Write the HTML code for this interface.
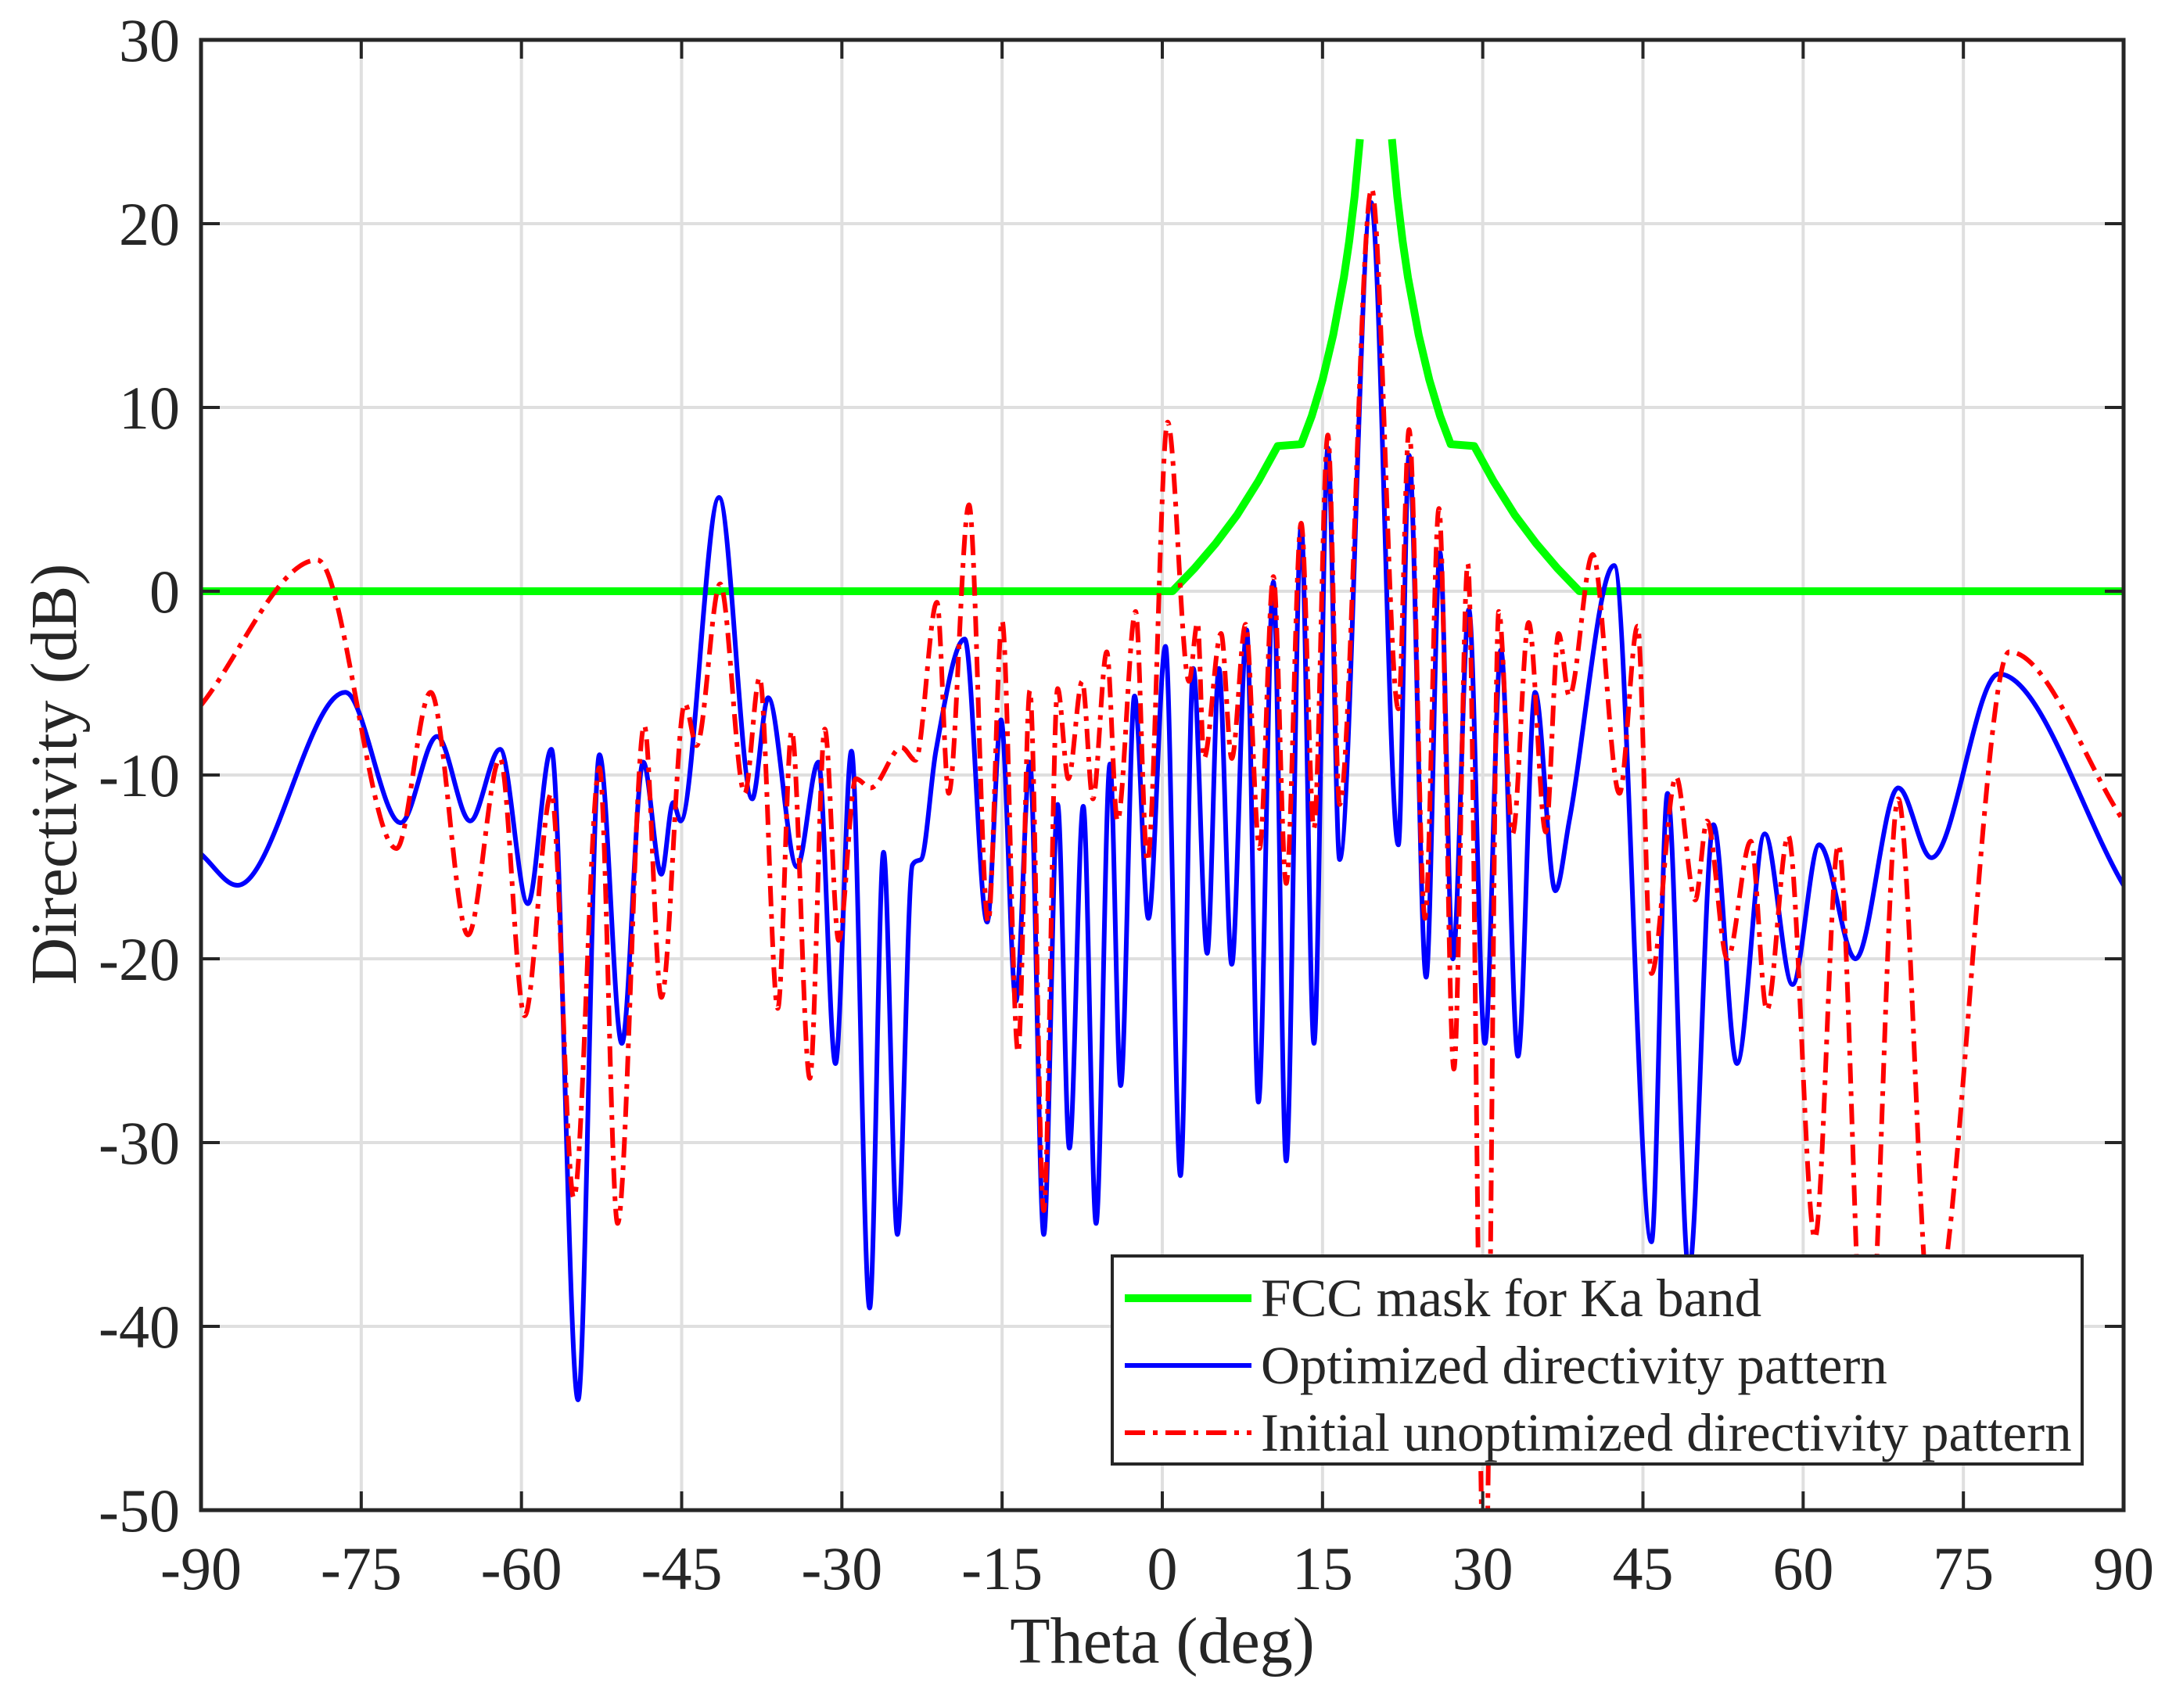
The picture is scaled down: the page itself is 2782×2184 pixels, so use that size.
<!DOCTYPE html>
<html><head><meta charset="utf-8"><style>
html,body{margin:0;padding:0;background:#fff;}
svg text{font-family:"Liberation Serif",serif;fill:#262626;}
</style></head><body>
<svg id="chart" width="2782" height="2179" viewBox="0 0 2782 2179" xmlns="http://www.w3.org/2000/svg">
<rect x="0" y="0" width="2782" height="2179" fill="#fff"/>
<defs><clipPath id="plotclip"><rect x="257" y="51" width="2458" height="1880"/></clipPath></defs>
<g id="grid"></g>
<g id="series" clip-path="url(#plotclip)"></g>
<g id="axes"></g>
<text x="1486" y="2126" font-size="84" text-anchor="middle">Theta (deg)</text>
<text x="0" y="0" font-size="84" text-anchor="middle" transform="translate(97,990) rotate(-90)">Directivity (dB)</text>
<g id="legend">
  <rect x="1422" y="1606" width="1240" height="266" fill="#fff" stroke="#262626" stroke-width="4"/>
  <line x1="1438" y1="1660" x2="1600" y2="1660" stroke="#00ff00" stroke-width="10"/>
  <text x="1612" y="1683" font-size="69">FCC mask for Ka band</text>
  <line x1="1438" y1="1746" x2="1600" y2="1746" stroke="#0000ff" stroke-width="6"/>
  <text x="1612" y="1769" font-size="69">Optimized directivity pattern</text>
  <line x1="1438" y1="1832" x2="1600" y2="1832" stroke="#ff0000" stroke-width="6" stroke-dasharray="26 10 6 10"/>
  <text x="1612" y="1855" font-size="69">Initial unoptimized directivity pattern</text>
</g>
</svg>
<script>
const xTicks=[-90,-75,-60,-45,-30,-15,0,15,30,45,60,75,90];
const yTicks=[30,20,10,0,-10,-20,-30,-40,-50];
const maskTheta=[-90,0.95,3,5,7,9,10.8,13,14,15,16,17,17.5,18,18.5,null,21.5,22,22.5,23,24,25,26,27,29.2,31,33,35,37,39.05,90];
const maskDb=[0,0,1.24,2.6,4.15,6.0,7.9,8,9.55,11.5,13.95,17.07,19.05,21.47,24.6,null,24.6,21.47,19.05,17.07,13.95,11.5,9.55,8,7.9,6.0,4.15,2.6,1.24,0,0];
const optTheta=[-90,-86.6,-76.5,-71.3,-67.9,-64.8,-62.0,-59.4,-57.2,-54.7,-52.7,-50.6,-48.6,-46.9,-45.8,-45.1,-41.5,-38.4,-36.9,-34.2,-32.2,-30.6,-29.1,-27.4,-26.1,-24.8,-23.4,-22.6,-21.2,-18.5,-16.4,-15.1,-13.7,-12.4,-11.1,-9.8,-8.7,-7.4,-6.2,-4.9,-3.9,-2.6,-1.3,0.3,1.7,2.9,4.2,5.3,6.5,7.9,9.0,10.4,11.6,13.0,14.2,15.5,16.6,19.55,22.1,23.1,24.7,26.0,27.2,28.7,30.2,31.7,33.3,34.9,36.8,38.1,42.3,45.8,47.3,49.3,51.6,53.8,56.4,59.0,61.5,64.9,68.9,72.0,78.3,90];
const optDb=[-14.3,-16.0,-5.5,-12.6,-7.9,-12.5,-8.6,-17.0,-8.6,-44,-8.9,-24.6,-9.3,-15.4,-11.5,-12.5,5.1,-11.3,-5.8,-15,-9.3,-25.7,-8.7,-39,-14.2,-35,-14.9,-14.6,-8.7,-2.6,-18,-7.0,-22.3,-9.3,-35,-11.6,-30.3,-11.7,-34.4,-9.4,-26.9,-5.7,-17.8,-3.0,-31.8,-4.2,-19.7,-4.2,-20.3,-2.1,-27.8,0.5,-31,3.6,-24.6,7.8,-14.6,21.15,-13.8,7.4,-21,2.1,-20,-1.0,-24.6,-3.2,-25.3,-5.5,-16.3,-12.5,1.4,-35.4,-11.0,-37,-12.7,-25.7,-13.2,-21.4,-13.8,-20.0,-10.7,-14.5,-4.5,-16.0];
const iniTheta=[-90,-79.1,-71.7,-68.5,-65.0,-62.0,-59.7,-57.2,-55.1,-52.7,-51.0,-48.5,-46.9,-44.7,-43.6,-41.4,-39.1,-37.7,-36.0,-34.7,-33.0,-31.6,-30.3,-28.7,-27.3,-24.4,-23.1,-21.1,-20.0,-18.1,-16.3,-15.0,-13.5,-12.4,-11.1,-9.8,-8.8,-7.5,-6.5,-5.2,-4.2,-2.5,-1.4,0.5,2.5,3.3,3.9,5.5,6.5,7.8,9.1,10.4,11.6,13.0,14.2,15.5,16.6,19.6,22.1,23.1,24.6,25.9,27.3,28.6,30.2,31.5,32.8,34.3,35.9,37.1,38.1,40.3,42.8,44.5,45.8,48.1,49.9,51.0,52.9,55.1,56.6,58.6,61.1,63.3,65.9,68.9,72.0,79.3,90];
const iniDb=[-6.2,1.7,-14.0,-5.5,-18.7,-9.1,-23.1,-11.0,-33,-9.6,-34.4,-7.3,-22.1,-6.1,-8.4,0.4,-11.0,-4.7,-22.7,-7.6,-26.5,-7.5,-19,-10.2,-10.7,-8.5,-9.2,-0.6,-11,4.7,-18,-1.6,-25.1,-5.4,-33.7,-5.3,-10.2,-4.9,-11.3,-3.3,-12.5,-1.1,-14.7,9.2,-4.9,-1.7,-9.1,-2.3,-9.1,-1.8,-14.0,0.8,-15.9,3.7,-12.9,8.5,-11.6,21.9,-6.4,8.8,-17.8,4.5,-26,1.5,-56,-1.1,-13.2,-1.7,-13.1,-2.3,-5.7,2.0,-11,-1.9,-20.8,-10.1,-16.8,-12.5,-20.0,-13.6,-22.8,-13.3,-35.2,-13.8,-45,-11.3,-40,-3.3,-12.5];

const L=257,R=2715,T=51,B=1931;
function xs(v){return L+(v+90)/180*(R-L);}
function ys(v){return T+(30-v)/80*(B-T);}
const NS="http://www.w3.org/2000/svg";
function mk(tag,attrs,parent){const e=document.createElementNS(NS,tag);for(const k in attrs)e.setAttribute(k,attrs[k]);parent.appendChild(e);return e;}
const grid=document.getElementById('grid'),axes=document.getElementById('axes'),series=document.getElementById('series');
xTicks.forEach(t=>{
  const X=xs(t);
  if(t>-90&&t<90){const g=mk('line',{x1:X,y1:T,x2:X,y2:B,stroke:'#dfdfdf','stroke-width':4},grid);
  
  }
  const a=mk('line',{x1:X,y1:B,x2:X,y2:B-24,stroke:'#262626','stroke-width':4},axes);
  
  
  const b=mk('line',{x1:X,y1:T,x2:X,y2:T+24,stroke:'#262626','stroke-width':4},axes);
  
  
  const tx=mk('text',{x:X,y:2032,'font-size':78,'text-anchor':'middle'},axes);
  tx.textContent=String(t);
  
  
});
yTicks.forEach(t=>{
  const Y=ys(t);
  if(t<30&&t>-50){const g=mk('line',{x1:L,y1:Y,x2:R,y2:Y,stroke:'#dfdfdf','stroke-width':4},grid);
  
  }
  const a=mk('line',{x1:L,y1:Y,x2:L+24,y2:Y,stroke:'#262626','stroke-width':4},axes);
  
  
  const b=mk('line',{x1:R,y1:Y,x2:R-24,y2:Y,stroke:'#262626','stroke-width':4},axes);
  
  
  const tx=mk('text',{x:230,y:Y+27,'font-size':78,'text-anchor':'end'},axes);
  tx.textContent=String(t);
  
  
});
const frame=mk('rect',{x:L,y:T,width:R-L,height:B-T,fill:'none',stroke:'#262626','stroke-width':5},axes);



function monoPath(px,py){
  const n=px.length;if(n<2)return '';
  const d=[],m=new Array(n);
  for(let i=0;i<n-1;i++)d.push((py[i+1]-py[i])/(px[i+1]-px[i]));
  m[0]=d[0];m[n-1]=d[n-2];
  for(let i=1;i<n-1;i++){m[i]=(d[i-1]*d[i]<=0)?0:(d[i-1]+d[i])/2;}
  for(let i=0;i<n-1;i++){if(d[i]===0){m[i]=0;m[i+1]=0;}else{const a=m[i]/d[i],b=m[i+1]/d[i],s=a*a+b*b;if(s>9){const t=3/Math.sqrt(s);m[i]=t*a*d[i];m[i+1]=t*b*d[i];}}}
  let s='M'+px[0]+','+py[0];
  for(let i=0;i<n-1;i++){const h=(px[i+1]-px[i])/3;s+=' C'+(px[i]+h)+','+(py[i]+m[i]*h)+' '+(px[i+1]-h)+','+(py[i+1]-m[i+1]*h)+' '+px[i+1]+','+py[i+1];}
  return s;
}
function linePath(th,db){let s='',pen=false;for(let i=0;i<th.length;i++){if(th[i]===null){pen=false;continue;}s+=(pen?' L':'M')+xs(th[i])+','+ys(db[i]);pen=true;}return s;}

const mask=mk('path',{d:linePath(maskTheta,maskDb),fill:'none',stroke:'#00ff00','stroke-width':10,'stroke-linejoin':'round'},series);


const opt=mk('path',{d:monoPath(optTheta.map(xs),optDb.map(ys)),fill:'none',stroke:'#0000ff','stroke-width':6},series);


const ini=mk('path',{d:monoPath(iniTheta.map(xs),iniDb.map(ys)),fill:'none',stroke:'#ff0000','stroke-width':6,'stroke-dasharray':'26 10 6 10'},series);


</script>
</body></html>
